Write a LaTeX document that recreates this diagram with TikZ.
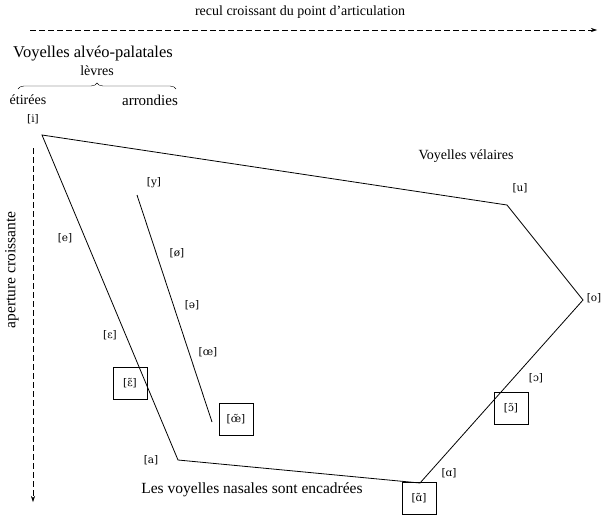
\documentclass[tikz,border=0pt]{standalone}
\usepackage{fontspec}
\setmainfont{Liberation Serif}
\newfontfamily\ipafont{DejaVu Serif}
\usetikzlibrary{arrows.meta,decorations.pathreplacing}

\begin{document}
\begin{tikzpicture}[
    x=1pt, y=-1pt,
    txt/.style={font=\fontsize{14}{16}\selectfont, inner sep=0pt},
    big txt/.style={font=\fontsize{15.5}{17}\selectfont, inner sep=0pt},
    ipa/.style={font=\ipafont\fontsize{10.5}{12}\selectfont, inner sep=1pt},
    nasal box/.style={ipa, draw=black, thin, minimum width=34pt, minimum height=32pt},
    edge line/.style={draw=black, thick},
    axis arrow/.style={draw=black, semithick, dash pattern=on 6pt off 3pt, -{Stealth[length=6pt,width=4pt]}}
]
\useasboundingbox (0,0) rectangle (602,514);

% axes: recul (horizontal) et aperture (vertical)
\node[txt] (Recul) at (300,12) {recul croissant du point d'articulation};
\coordinate (HL) at (30,30);
\coordinate (HR) at (597,30);
\draw[axis arrow] (HL) -- (HR);

\node[big txt, rotate=90] (Aperture) at (12,270) {aperture croissante};
\coordinate (VT) at (33,148);
\coordinate (VB) at (33,502);
\draw[axis arrow] (VT) -- (VB);

% en-tete des voyelles anterieures
\node[big txt, font=\fontsize{16.5}{18}\selectfont] (Alveo) at (93,54) {Voyelles alvéo-palatales};
\node[txt] (Levres) at (97,71)  {lèvres};
\coordinate (BrL) at (18,89);
\coordinate (BrR) at (176,89);
\draw[decorate, decoration={brace, amplitude=6pt}] (BrL) -- (BrR);
\node[txt] (Etirees)   at (28,100)  {étirées};
\node[txt, font=\fontsize{15}{17}\selectfont] (Arrondies) at (150,100) {arrondies};
\node[txt] (Velaires)  at (466,156) {Voyelles vélaires};

% sommets du trapeze
\coordinate (I)  at (42,135);
\coordinate (U)  at (507,205);
\coordinate (O)  at (583,300);
\coordinate (AA) at (420,483);
\coordinate (A)  at (178,460);
\draw[edge line] (I) -- (U) -- (O) -- (AA) -- (A) -- cycle;

% serie arrondie anterieure
\coordinate (Ytop) at (137,195);
\coordinate (Ybot) at (212,422);
\draw[edge line] (Ytop) -- (Ybot);

% etiquettes orales
\node[ipa] (Li)  at (33,119)  {[i]};
\node[ipa] (Le)  at (65,238)  {[e]};
\node[ipa] (LE)  at (110,335) {[ɛ]};
\node[ipa] (La)  at (151,460) {[a]};
\node[ipa] (Ly)  at (154,183) {[y]};
\node[ipa] (Lo2) at (177,253) {[ø]};
\node[ipa] (Lsw) at (192,305) {[ə]};
\node[ipa] (Loe) at (208,352) {[œ]};
\node[ipa] (Lu)  at (520,188) {[u]};
\node[ipa] (Lo)  at (594,298) {[o]};
\node[ipa] (LO)  at (536,378) {[ɔ]};
\node[ipa] (LA)  at (449,473) {[ɑ]};

% voyelles nasales (encadrees)
\node[nasal box] (NE)  at (130,383) {[ɛ̃]};
\node[nasal box] (NOE) at (236,419) {[œ̃]};
\node[nasal box] (NO)  at (511,408) {[ɔ̃]};
\node[nasal box, anchor=north] (NA) at (419,482) {[ɑ̃]};

\node[big txt] (Nasales) at (252,490) {Les voyelles nasales sont encadrées};

\end{tikzpicture}
\end{document}
